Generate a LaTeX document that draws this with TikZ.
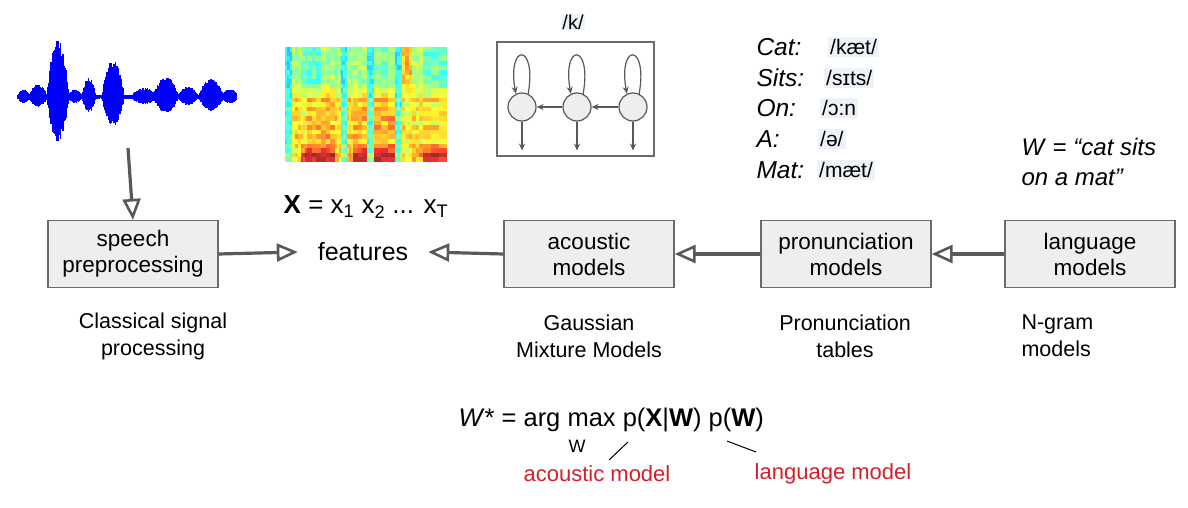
\documentclass[tikz,border=0pt]{standalone}
\usepackage{fontspec}
\setmainfont{Liberation Sans}
\usetikzlibrary{arrows.meta}
\definecolor{boxfill}{HTML}{EEEEEE}
\definecolor{boxline}{HTML}{6A6A6A}
\definecolor{arrowgray}{HTML}{595959}
\definecolor{ipabg}{HTML}{EDF2F8}
\definecolor{labelred}{HTML}{D4202C}
\newcommand{\fsz}[2]{\fontsize{#1}{#2}\selectfont}

\begin{document}
\begin{tikzpicture}[x=1pt, y=-1pt,
  declare function={bmp(\z,\m,\s)=max(0,1-((\z-\m)/\s)^2);
    env(\z)=2+5*bmp(\z,24,6)+9*bmp(\z,38,9)+48*bmp(\z,58,11)+5*bmp(\z,75,7)
      +15*bmp(\z,89,7)+32*bmp(\z,113,11)+6*bmp(\z,144,12)+16*bmp(\z,166,12)
      +7*bmp(\z,188,10)+14*bmp(\z,211,12)+5*bmp(\z,230,8);},
  stage/.style={draw=boxline, fill=boxfill, line width=1.2pt, minimum width=170pt,
    minimum height=67pt, align=center, font=\fsz{22.5}{26}},
  note/.style={align=center, font=\fsz{21.5}{27}},
  flow/.style={draw=arrowgray, line width=3.2pt,
    -{Triangle[open, length=21pt, width=18pt, line width=2.6pt]}},
  state/.style={circle, draw=arrowgray, fill=boxfill, line width=1.2pt,
    minimum size=28pt, inner sep=0pt},
  hmmarrow/.style={draw=arrowgray, line width=1.2pt, -{Stealth[length=7pt, width=6pt]}},
  word/.style={anchor=west, font=\fsz{24.5}{30}\itshape},
  ipa/.style={anchor=west, fill=ipabg, inner sep=2pt, font=\fsz{21}{26}},
  redlabel/.style={text=labelred, font=\fsz{22}{26}}]

\fill[white] (0,0) rectangle (1188,508);
\useasboundingbox (0,0) rectangle (1188,508);

% waveform
\pgfmathsetseed{7}
\foreach \x in {18,18.6,...,237} {
  \pgfmathsetmacro\a{env(\x)*(0.75+0.25*rnd)}
  \draw[blue, line width=1.1pt] (\x,{97-1.15*\a}) -- (\x,{97+0.9*\a});
}

% spectrogram
\begin{scope}[shift={(285,47)}]
  \clip (0,0) rectangle (162,115);
  \foreach \ua/\ub/\vt/\vm/\vb in {0/7/.36/.40/.45, 7/16/.52/.63/.62, 16/22/.47/.60/.86,
      22/36/.44/.66/.92, 36/50/.52/.68/.93, 50/56/.50/.62/.68, 56/62/.37/.40/.46,
      62/68/.52/.64/.70, 68/82/.52/.67/.92, 82/89/.37/.40/.48, 89/110/.48/.68/.93,
      110/117/.37/.40/.45, 117/127/.70/.60/.60, 127/138/.54/.62/.70, 138/162/.45/.63/.90} {
    \foreach \j in {0,...,24} {
      \foreach \k in {0,1,2} {
        \pgfmathsetmacro\xa{\ua+(\ub-\ua)*\k/3}
        \pgfmathsetmacro\xb{\ua+(\ub-\ua)*(\k+1)/3}
        \pgfmathsetmacro\vv{\j/24}
        \pgfmathsetmacro\tt{max(0,min(1,\vt+(\vm-\vt)*max(0,min(1,(\vv-.3)/.15))
          +(\vb-\vm)*max(0,min(1,(\vv-.86)/.08))+0.14*rnd-0.07+0.06*mod(\j,2)*(\vv>0.4)))}
        \pgfmathsetmacro\cR{max(0,min(1,1.5-abs(4*\tt-3)))}
        \pgfmathsetmacro\cG{max(0,min(1,1.5-abs(4*\tt-2)))}
        \pgfmathsetmacro\cB{max(0,min(1,1.5-abs(4*\tt-1)))}
        \definecolor{jet}{rgb}{\cR,\cG,\cB}
        \fill[jet!82!white] (\xa,\j*4.6) rectangle (\xb+0.3,\j*4.6+4.9);
      }
    }
  }
\end{scope}
\node[font=\fsz{26}{30}] (featseq) at (366,207)
  {\textbf{X} = x\textsubscript{1} x\textsubscript{2} ... x\textsubscript{T}};

% hmm for /k/
\node[font=\fsz{20}{24}, fill=ipabg, inner sep=1pt] (phone) at (573,22) {/k/};
\node[draw=boxline, line width=1.2pt, minimum width=157pt, minimum height=114pt] (hmmbox) at (575.5,99) {};
\node[state] (s1) at (522,107) {};
\node[state] (s2) at (577,107) {};
\node[state] (s3) at (633,107) {};
\draw[hmmarrow] (s2) -- (s1);
\draw[hmmarrow] (s3) -- (s2);
\foreach \s in {s1,s2,s3} {
  \coordinate (\s out) at ([yshift=-29pt]\s.south);
  \draw[hmmarrow] (\s.65) .. controls +(-80:52) and +(-100:52) .. (\s.115);
  \draw[hmmarrow] (\s.south) -- (\s out);
}

% pronunciation lexicon
\node[word] (cat) at (753,47) {Cat:};
\node[word] (sits) at (753,78) {Sits:};
\node[word] (on) at (753,108) {On:};
\node[word] (a) at (753,139) {A:};
\node[word] (mat) at (753,170) {Mat:};
\node[ipa] (ipacat) at (828,47) {/kæt/};
\node[ipa] (ipasits) at (824,78) {/sɪts/};
\node[ipa] (ipaon) at (820,108) {/ɔ:n};
\node[ipa] (ipaa) at (818,139) {/ə/};
\node[ipa] (ipamat) at (817,170) {/mæt/};

\node[anchor=west, align=left, font=\fsz{24}{30}] (sentence) at (1018,162)
  {\textit{W} = \textit{“cat sits}\\\textit{on a mat”}};

% pipeline
\node[stage] (speech) at (133,254) {speech\\preprocessing};
\node[font=\fsz{25}{28}, minimum width=130pt, inner sep=0pt] (features) at (363,252) {features};
\node[stage] (acoustic) at (589,254) {acoustic\\models};
\node[stage] (pronunciation) at (846,254) {pronunciation\\models};
\node[stage] (language) at (1090,254) {language\\models};

\coordinate (wavefoot) at (128,148);
\draw[flow] (wavefoot) -- (speech.north);
\draw[flow] (speech.east) -- (features.west);
\draw[flow] (acoustic.west) -- (features.east);
\draw[flow] (pronunciation.west) -- (acoustic.east);
\draw[flow] (language.west) -- (pronunciation.east);

\node[note] (classical) at (153,336) {Classical signal\\processing};
\node[note] (gmm) at (589,336) {Gaussian\\Mixture Models};
\node[note] (ptables) at (845,336) {Pronunciation\\tables};
\node[note, align=left, anchor=west] (ngram) at (1018,336) {N-gram\\models};

% decoding rule
\node[anchor=west, font=\fsz{25.5}{30}] (bayes) at (455,420)
  {\textit{W}* = arg max p(\textbf{X}|\textbf{W}) p(\textbf{W})};
\node[font=\fsz{18}{20}] (argsub) at (577,446) {W};
\node[redlabel] (amlabel) at (597,474) {acoustic model};
\node[redlabel] (lmlabel) at (833,474) {language model};
\coordinate (amtop) at (628,442);
\coordinate (amfoot) at (609,460);
\coordinate (lmtop) at (727,441);
\coordinate (lmfoot) at (756,452);
\draw[line width=1pt] (amtop) -- (amfoot);
\draw[line width=1pt] (lmtop) -- (lmfoot);
\end{tikzpicture}
\end{document}
